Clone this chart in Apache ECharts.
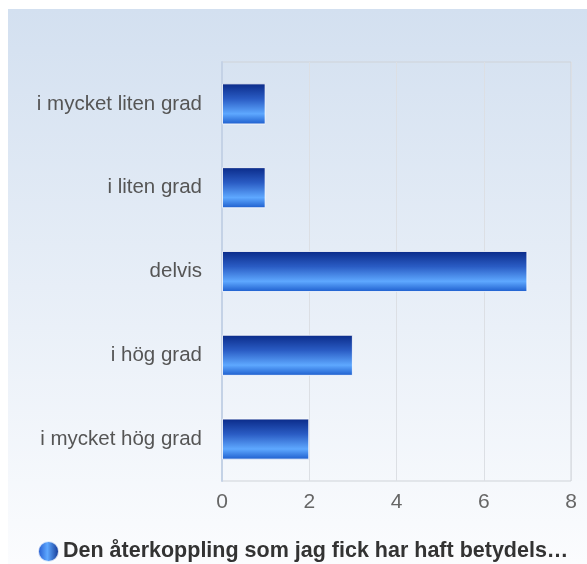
<!DOCTYPE html>
<html><head><meta charset="utf-8">
<script src="https://cdn.jsdelivr.net/npm/echarts@6/dist/echarts.min.js"></script>
<style>html,body{margin:0;padding:0;background:#fff}#c{width:587px;height:564px}</style>
</head><body><div id="c"></div>
<script>
var categories = ['i mycket liten grad', 'i liten grad', 'delvis', 'i hög grad', 'i mycket hög grad'];
var values = [1, 1, 7, 3, 2];
var seriesName = 'Den återkoppling som jag fick har haft betydels…';
var xTicks = [0, 2, 4, 6, 8];

var chart = echarts.init(document.getElementById('c'));
var barGrad = new echarts.graphic.LinearGradient(0, 0, 0, 1, [
  {offset: 0, color: '#0a2a88'},
  {offset: 0.38, color: '#2a5cc4'},
  {offset: 0.74, color: '#5ea8ff'},
  {offset: 1, color: '#1c5ccc'}
]);
var legGrad = new echarts.graphic.LinearGradient(0, 0, 1, 0, [
  {offset: 0, color: '#1c50c8'},
  {offset: 0.45, color: '#5ea8ff'},
  {offset: 1, color: '#0a2a88'}
]);
chart.setOption({
  animation: false,
  backgroundColor: 'transparent',
  graphic: [{
    type: 'rect', z: -10, silent: true,
    shape: {x: 8, y: 9, width: 579, height: 555},
    style: {fill: new echarts.graphic.LinearGradient(0, 0, 0, 1, [
      {offset: 0, color: '#d3e0f0'},
      {offset: 1, color: '#fbfcfe'}
    ])}
  }],
  grid: {left: 222, right: 16, top: 62, bottom: 83, show: true, borderColor: '#cfd3d8', borderWidth: 1, backgroundColor: 'transparent'},
  legend: {
    top: 540, left: 32, padding: [0, 5], itemWidth: 21, itemHeight: 21, itemGap: 6,
    icon: 'circle',
    data: [{name: seriesName, itemStyle: {color: legGrad}}],
    textStyle: {fontFamily: 'Liberation Sans, Arial, sans-serif', fontSize: 21.5, fontWeight: 'bold', color: '#333', padding: [0, 0, 0, -1]}
  },
  xAxis: {
    type: 'value', min: xTicks[0], max: xTicks[xTicks.length - 1], interval: 2,
    axisLine: {show: false}, axisTick: {show: false},
    splitLine: {lineStyle: {color: '#dcdfe4', width: 1}},
    axisLabel: {margin: 11, fontFamily: 'Liberation Sans, Arial, sans-serif', fontSize: 21, color: '#666'}
  },
  yAxis: {
    type: 'category', data: categories, inverse: true,
    axisLine: {show: true, lineStyle: {color: '#c4d2e6', width: 2}}, axisTick: {show: false},
    axisLabel: {margin: 20, fontFamily: 'Liberation Sans, Arial, sans-serif', fontSize: 20.5, color: '#555'}
  },
  series: [{
    name: seriesName, type: 'bar', data: values, barWidth: '49%',
    itemStyle: {color: barGrad, borderColor: 'rgba(255,255,255,0.8)', borderWidth: 1}
  }]
});
</script></body></html>
